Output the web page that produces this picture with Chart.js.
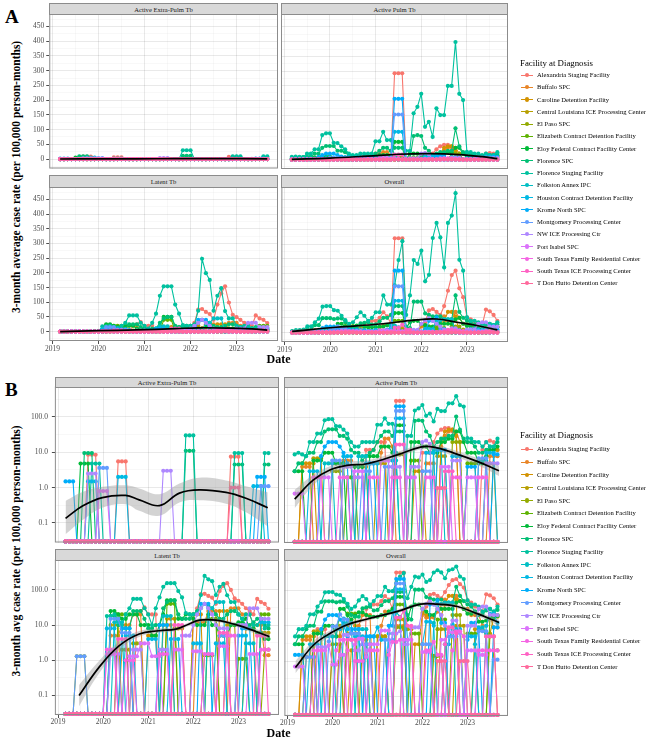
<!DOCTYPE html>
<html><head><meta charset="utf-8">
<script src="https://cdn.jsdelivr.net/npm/chart.js@4.4.1/dist/chart.umd.min.js"></script>
<style>
html,body{margin:0;padding:0;background:#fff;}
body{width:650px;height:740px;position:relative;overflow:hidden;font-family:"Liberation Serif","Times New Roman",serif;color:#000;}
.strip{position:absolute;background:#d9d9d9;border:1px solid #8c8c8c;box-sizing:border-box;font-size:6.6px;color:#1a1a1a;display:flex;align-items:center;justify-content:center;z-index:5;white-space:nowrap;}
.lbl{position:absolute;white-space:nowrap;z-index:6;}
.host{position:absolute;left:0;top:0;}
</style></head><body>
<script>
// ---------------- DATA ----------------
const FACILITIES = ["Alexandria Staging Facility","Buffalo SPC","Caroline Detention Facility","Central Louisiana ICE Processing Center","El Paso SPC","Elizabeth Contract Detention Facility","Eloy Federal Contract Facility Center","Florence SPC","Florence Staging Facility","Folkston Annex IPC","Houston Contract Detention Facility","Krome North SPC","Montgomery Processing Center","NW ICE Processing Ctr","Port Isabel SPC","South Texas Family Residential Center","South Texas ICE Processing Center","T Don Hutto Detention Center"];
const COLORS = ["#F8766D","#E88526","#D39200","#B79F00","#93AA00","#5EB300","#00BA38","#00BF74","#00C19F","#00BFC4","#00B9E3","#00ADFA","#619CFF","#AE87FF","#DB72FB","#F564E3","#FF61C3","#FF699C"];
// months: 2019-03 ... 2023-09 (55 monthly points)
const FIRST_YEAR = 2019, FIRST_MONTH = 3, N_MONTHS = 55;
const YEAR_TICKS = [2019,2020,2021,2022,2023];
const LIN_TICKS = [0,50,100,150,200,250,300,350,400,450];
const LOG_TICKS = [0.1,1,10,100];
const LOG_TICK_LABELS = ["0.1","1.0","10.0","100.0"];

// Active Extra-Pulm Tb (rows in FACILITIES order)
const EXTRA_PULM = [
[0,0,0,0,0,0,8.5,8.5,8.5,0, 0,0,0,0,5.5,5.5,5.5,0,0,0,0,0, 0,0,0,0,0,0,0,0,0,0,0,0, 0,0,0,0,0,0,0,0,0,0,7.5,7.5, 7.5,0,0,0,0,0,0,0,0],
[0,0,0,0,0,0,0,0,0,0, 0,0,0,0,0,0,0,0,0,0,0,0, 0,0,0,0,0,0,0,0,0,0,0,0, 0,0,0,0,0,0,0,0,0,0,0,0, 0,0,0,0,0,0,0,0,0],
[0,0,0,0,0,0,0,0,0,0, 0,0,0,0,0,0,0,0,0,0,0,0, 0,0,0,0,0,0,0,0,0,0,0,0, 0,0,0,0,0,0,0,0,0,0,0,0, 0,0,0,0,0,0,0,0,0],
[0,0,0,0,0,0,0,0,0,0, 0,0,0,0,0,0,0,0,0,0,0,0, 0,0,0,0,0,0,0,0,0,0,0,0, 0,0,0,0,0,0,0,0,0,0,0,0, 0,0,0,0,0,0,0,0,0],
[0,0,0,0,0,0,0,0,0,0, 0,0,0,0,0,0,0,0,0,0,0,0, 0,0,0,0,0,0,0,0,0,0,0,0, 0,0,0,0,0,0,0,0,0,0,0,0, 0,0,0,0,0,0,0,0,0],
[0,0,0,0,0,0,0,0,0,0, 0,0,0,0,0,0,0,0,0,0,0,0, 0,0,0,0,0,0,0,0,0,0,0,0, 0,0,0,0,0,0,0,0,0,0,0,0, 0,0,0,0,0,0,0,0,0],
[0,0,0,0,4.8,4.8,4.8,0,0,0, 0,0,0,0,0,0,0,0,0,0,0,0, 0,0,0,0,0,0,0,0,0,0,0,0, 0,0,0,0,0,0,0,0,0,0,0,0, 0,0,0,0,0,0,0,0,0],
[0,0,0,0,0,9.5,9.5,9.5,0,0, 0,0,0,0,0,0,0,0,0,0,0,0, 0,0,0,0,0,0,0,0,0,0,11,11, 11,0,0,0,0,0,0,0,0,0,0,4.5, 4.5,4.5,0,0,0,0,0,4.5,4.5],
[0,0,0,0,0,0,0,4.8,4.8,4.8, 0,0,0,0,0,0,0,0,0,0,0,0, 0,0,0,0,0,0,0,0,0,0,30,30, 30,0,0,0,0,0,0,0,0,0,0,9.5, 9.5,9.5,0,0,0,0,0,9.5,9.5],
[0,0,0,0,0,0,0,0,0,0, 0,0,0,0,0,0,0,0,0,0,0,0, 0,0,0,0,0,0,0,0,0,0,0,0, 0,0,0,0,0,0,0,0,0,0,0,0, 0,0,0,0,0,0,0,0,0],
[0,0,0,0,0,0,1.5,1.5,1.5,0, 0,0,0,0,2,2,2,0,0,0,0,0, 0,0,0,0,0,0,0,0,0,0,0,0, 0,0,0,0,0,0,0,0,0,0,0,0, 0,0,0,0,1.1,1.1,1.1,0,0],
[1.5,1.5,1.5,0,0,0,0,0,0,0, 0,0,0,0,0,0,0,0,0,0,0,0, 0,0,0,0,0,0,0,0,0,0,0,0, 0,0,0,0,0,0,0,0,0,0,0,0, 0,0,0,0,0,2,2,2,0],
[0,0,0,0,0,0,0,0,0,3.6, 3.6,3.6,0,0,0,0,0,0,0,0,0,0, 0,0,0,0,0,0,0,0,0,0,0,0, 0,0,0,0,0,0,0,0,0,0,0,0, 0,0,0,0,0,0,1.1,1.1,1.1],
[0,0,0,0,0,0,2.5,2.5,2.5,0, 0,0,0,0,0,0,0,0,0,0,0,0, 0,0,0,0,3,3,3,0,0,0,0,0, 0,0,0,0,0,0,0,0,0,0,0,0, 0,0,0,0,0,0,0,0,0],
[0,0,0,0,0,0,0,0,0,0.8, 0.8,0.8,0,0,0,0,0,0,0,0,0,0, 0,0,0,0,0,0,0,0,0,0,0,0, 0,0,0,0,0,0,0,0,0,0,0,0, 0,0,0,0,0,0,0,0,0],
[0,0,0,0,0,0,0,0,0,0, 0,0,0,0,0,0,0,0,0,0,0,0, 0,0,0,0,0,0,0,0,0,0,0,0, 0,0,0,0,0,0,0,0,0,0,0,0, 0,0,0,0,0,0,0,0,0],
[0,0,0,0,0,0,0,0,0,0, 0,0,0,0,0,0,0,0,0,0,0,0, 0,0,0,0,0,0,0,0,0,0,0,0, 0,0,0,0,0,0,0,0,0,0,0,0, 0,0,0,0,0,0,0,0,0],
[0,0,0,0,0,0,0,0,0,0, 0,0,0,0,0,0,0,0,0,0,0,0, 0,0,0,0,0,0,0,0,0,0,0,0, 0,0,0,0,0,0,0,0,0,0,1,1, 1,0,0,0,0,0,0,0,0]
];

// Active Pulm Tb
const ACTIVE_PULM = [
[0,0,0,0,0,0,0,0,0,0, 5,5,5,0,0,0,0,0,0,12,12,12, 20,20,20,0,0,293,293,293,0,0,0,0, 10,10,10,20,35,45,50,50,40,30,0,0, 0,0,0,0,12,20,22,20,12],
[0,0,4,4,4,0,0,0,0,0, 0,0,0,6,6,6,0,0,0,0,0,0, 0,10,25,25,15,0,0,0,0,0,0,0, 0,5,5,5,0,15,30,40,45,40,20,0, 0,0,0,0,0,0,8,8,8],
[0,0,5,5,5,5,0,0,0,0, 0,0,0,0,0,0,0,4,4,4,0,0, 0,0,0,0,0,0,0,0,0,0,3,3, 3,0,0,0,0,20,40,45,45,30,0,0, 0,0,0,0,0,5,5,5,0],
[0,0,0,0,0,7,7,7,0,0, 0,0,0,0,0,0,0,0,0,0,0,0, 5,5,5,0,0,0,0,0,0,0,0,0, 0,0,0,0,8,8,8,0,0,0,0,0, 0,0,0,0,0,0,0,12,12],
[0,0,0,0,0,0,0,0,0,0, 3,3,3,0,0,0,0,0,0,0,0,0, 0,0,0,0,0,9,9,9,0,0,0,0, 0,0,0,0,0,0,0,0,20,20,20,0, 0,0,0,0,0,0,0,0,0],
[0,0,0,0,0,0,0,0,0,0, 0,0,0,0,2,2,2,0,0,0,0,0, 0,0,0,0,0,0,0,0,0,6,6,6, 0,0,0,0,0,0,0,0,0,0,0,0, 5,5,5,0,0,0,0,0,0],
[3,3,3,0,0,6,6,6,10,10, 10,5,5,5,0,0,4,4,4,0,8,8, 8,15,15,15,10,60,60,60,0,20,20,20, 15,15,10,10,10,20,20,25,25,40,40,20, 10,10,10,5,5,8,12,12,15],
[3,5,5,8,10,10,20,20,40,46, 46,46,30,30,25,12,10,10,6,8,10,12, 20,30,40,40,30,40,40,40,0,0,80,83, 80,40,30,15,20,25,25,30,30,106,45,25, 20,20,15,10,10,12,15,15,20],
[9,10,9,8,20,20,35,35,83,89, 89,57,56,45,35,20,15,15,20,20,20,20, 62,62,94,66,66,10,0,0,30,30,157,179, 223,111,128,77,174,151,151,250,250,399,223,202, 26,25,20,20,15,20,15,15,25],
[0,0,0,0,0,0,0,0,5,5, 5,0,0,0,0,0,0,8,8,8,0,0, 0,0,0,6,6,6,0,0,0,0,0,0, 0,0,0,12,12,12,0,0,0,0,0,0, 0,0,0,6,6,6,0,0,0],
[0,0,0,0,3,3,3,0,0,0, 0,0,0,8,8,8,0,0,0,0,5,5, 5,0,0,0,0,94,94,94,0,0,0,0, 0,10,10,10,0,0,0,0,8,8,8,0, 0,0,0,0,0,10,10,10,0],
[0,0,0,0,0,0,0,8,15,20, 20,20,15,10,5,0,0,0,0,5,5,5, 0,0,0,0,0,206,206,206,0,0,0,0, 0,0,0,0,12,12,12,0,0,0,0,0, 4,4,4,0,0,0,0,9,9],
[0,0,0,0,0,0,0,0,0,0, 6,6,6,0,0,0,0,0,3,3,3,0, 0,0,4,4,4,153,153,153,0,0,0,0, 3,3,3,0,0,0,0,0,0,0,0,0, 0,0,0,7,7,7,0,0,0],
[0,0,0,0,0,0,0,0,0,0, 0,0,0,4,4,4,2,2,2,0,0,0, 0,0,0,0,4,4,4,0,0,4,4,4, 20,22,18,0,0,0,0,0,6,6,6,0, 0,0,0,0,0,5,5,5,5],
[0.7,0.7,0.7,0,0,0,0,2,2,2, 0,0,0,0,0,0,3,3,3,0,0,0, 0,6,6,6,0,0,0,0,2,2,2,0, 0,0,0,0,0,4,4,4,0,0,0,0, 2,2,2,0,0,0,0,0,0],
[0,0,0,0,0,2,2,2,0,0, 0,0,2,2,2,0,0,0,0,0,2,2, 2,0,0,0,2,2,2,0,0,0,0,0, 0,2,2,2,0,0,0,0,2,2,2,0, 0,0,0,2,2,2,0,0,0],
[0,0,0,0,0,0,0,0,0,0, 0,0,0,0,0,0,0,0,0,0,0,0, 0,0,0,0,0,17,17,17,0,0,0,0, 0,0,0,0,0,0,3,3,3,0,0,0, 0,0,0,0,0,0,0,0,0],
[0,0,0,0,0,0,0,0,0,0, 0,0,0,0,0,0,0,0,0,0,0,0, 0,0,0,0,0,0,0,0,0,0,0,0, 0,0,0,0,1,1,1,0,0,0,0,0, 0,0,0,0,0,0,0,0,0]
];

// Latent Tb
const LATENT = [
[0,0,0,0,0,0,0,0,0,0, 0,0,0,0,0,0,0,0,0,20,25,32, 20,20,20,0,0,0,0,0,0,0,0,0, 15,30,75,77,67,60,40,92,130,154,99,57, 49,40,30,25,20,55,45,40,29],
[0,0,0,0,0,0,0,0,0,0, 0,0,5,5,5,10,10,10,20,20,20,0, 0,0,0,0,10,10,10,0,0,0,0,0, 0,12,12,12,25,25,25,0,0,0,30,30, 30,20,20,20,10,10,10,1.4,1.4],
[0,0,0,0,0,0,0,0,0,0, 0,0,0,0,0,2,2,2,0,0,0,0, 5,5,5,0,0,15,15,15,0,0,0,0, 20,20,20,0,0,0,0,25,25,25,0,0, 0,0,8,8,8,0,0,0,0],
[0,0,0,0,0,0,0,0,0,0, 0,0,10,10,10,0,0,0,0,0,0,0, 0,0,0,0,0,0,0,8,8,8,0,0, 0,0,0,0,0,0,0,0,0,10,10,10, 0,0,0,0,0,0,6,6,6],
[0,0,0,1.3,1.3,1.3,0,0,0,0, 0,0,0,0,0,0,0,0,3,3,3,0, 0,0,0,0,0,0,0,0,0,0,0,0, 0,0,0,1.4,1.4,1.4,0,0,0,0,0,0, 0,0,0,0,0,0,0,2,2],
[0,0,0,0,0,0,0,0,0,0, 0,0,0,0,20,20,20,0,0,0,0,0, 0,0,0,0,0,40,40,40,0,0,0,0, 0,0,0,0,15,15,15,0,0,0,0,0, 1.1,1.1,1.1,0,0,0,20,20,20],
[0,0,0,0,0,0,0,0,0,0, 0,0,25,25,20,15,15,20,20,20,10,10, 10,5,5,10,20,50,50,50,15,15,20,20, 15,10,10,10,20,10,10,5,5,5,10,10, 12,12,15,8,8,6,6,4,4],
[0,0,0,0,0,0,0,0,0,0, 0,0,18,18,10,8,8,8,25,25,25,15, 8,8,10,10,30,45,50,50,20,15,15,15, 20,25,30,40,35,30,20,15,15,20,25,25, 20,15,10,10,12,15,15,10,8],
[0,0,0,0,0,0,0,0,0,0, 0,18,18,20,15,10,20,30,55,55,55,30, 20,10,30,61,122,154,154,154,92,61,22,20, 20,22,71,248,199,176,71,122,148,70,45,45, 20,15,20,20,10,10,15,8,10],
[0,0,0,0,0,0,0,0,0,0, 0,0,0,12,12,12,0,0,0,0,0,0, 0,0,0,0,18,18,18,0,0,0,0,0, 0,0,0,0,30,30,45,45,45,0,0,0, 0,0,3,3,3,0,0,0,0],
[0,0,0,0,0,0,0,0,0,0, 0,8,8,8,0,0,5,5,5,0,0,0, 4,4,4,0,0,0,4,4,4,0,0,0, 3,3,3,0,0,0,3,3,3,0,0,0, 5,5,5,0,0,0,12,12,12],
[0,0,0,0,0,0,0,0,0,0, 0,0,0,0,0,8,8,8,0,0,0,0, 0,0,0,10,10,10,0,0,0,0,0,0, 0,0,40,40,40,0,0,0,0,0,0,0, 0,8,8,8,0,0,0,0,0],
[0,0,0,1.3,1.3,1.3,0,0,0,0, 0,0,15,15,15,6,6,6,0,0,0,0, 0,0,0,0,0,0,0,0,0,0,0,0, 0,0,0,0,0,0,0,5,5,5,0,0, 0,0,0,0,0,0,0,0,0],
[0,0,0,0,0,0,0,0,0,0, 0,0,1.5,1.5,1.5,0,0,0,2,2,2,0, 0,0,0,2,2,2,0,0,0,5,5,5, 10,20,30,40,30,20,10,8,8,8,0,0, 10,10,10,30,30,30,15,15,15],
[0,0,0,0,0,0,0,0,0,0, 0,1.5,1.5,1.5,0,0,0,1.3,1.3,1.3,3,3, 3,1.3,1.3,1.3,0,0,0,2,2,2,0,0, 1.8,1.8,1.8,0,0,0,0,2.5,2.5,2.5,0,0, 0,0,0,1.5,1.5,1.5,0,0,0],
[0,0,0,0,0,0,0,0,0,0, 0,2,2,2,0,0,1,1,1,0,0,0, 0,0,0,1.5,1.5,1.5,0,0,0,0,0,0, 0,0,0,1.5,1.5,1.5,0,0,0,5,5,5, 0,0,0,0,0,0,2,2,2],
[0,0,0,0,0,0,0,0,0,0, 0,0,0,0,4,4,4,0,0,0,0,0, 0,0,0,0,0,0,0,10,10,10,0,0, 0,0,0,0,0,0,0,6,6,6,0,0, 0,0,0,0,0,5,5,5,0],
[0,0,0,0,0,0,0,0,0,0, 0,0,0,0,0,0,0,0,0,0,0,0, 0,0,0,0,0,0,0,0,0,0,0,0, 0,0,0,0,0,0,0,0,0,0,0,0, 0,0,0,0,0,0,0,0,0]
];

// Overall
const OVERALL = [
[0,0,0,0,0,0,8,8,8,0, 5,5,5,0,6,6,6,0,0,30,35,40, 40,50,69,55,30,320,320,320,0,0,0,0, 20,35,75,80,70,60,90,142,195,210,150,120, 52,45,35,30,25,78,72,60,40],
[0,0,4,4,4,0,0,0,0,0, 0,0,5,11,11,15,10,10,20,20,20,0, 0,10,25,25,25,10,10,10,0,0,0,0, 0,17,17,17,25,40,55,40,45,70,50,30, 30,20,20,20,10,10,18,9,9],
[0,0,5,5,5,5,0,0,0,0, 0,0,0,0,0,2,2,6,4,4,0,0, 5,5,5,0,0,15,15,15,0,0,3,3, 23,20,20,0,0,20,40,70,70,55,0,0, 0,0,8,8,8,5,5,5,0],
[0,0,0,0,0,7,7,7,0,0, 0,0,10,10,10,0,0,0,0,0,0,0, 5,5,5,0,0,0,0,8,8,8,0,0, 0,0,0,0,8,8,8,0,0,10,10,10, 0,0,0,0,0,0,6,18,18],
[0,0,0,1.3,1.3,1.3,0,0,0,0, 3,3,3,0,0,0,0,0,3,3,3,0, 0,0,0,0,0,9,9,9,0,0,0,0, 0,0,0,1.4,1.4,1.4,0,0,20,20,20,0, 0,0,0,0,0,0,0,2,2],
[0,0,0,0,0,0,0,0,0,0, 0,0,0,0,22,22,22,0,0,0,0,0, 0,0,0,0,0,40,40,40,0,6,6,6, 0,0,0,0,15,15,15,0,0,0,0,0, 6,6,6,0,0,0,20,20,20],
[3,3,3,0,0,6,6,6,10,10, 10,5,30,30,20,15,19,24,24,20,18,18, 18,20,20,25,30,66,66,66,15,35,40,40, 30,25,20,20,30,30,30,30,30,45,50,30, 22,22,25,13,13,14,18,16,19],
[3,5,5,8,10,10,25,25,49,49, 49,46,48,48,35,20,18,18,31,33,35,27, 28,38,50,50,60,90,90,90,20,15,105,105, 105,65,60,55,55,55,45,45,45,126,70,50, 40,35,25,20,22,27,30,25,28],
[5,8,8,10,21,21,35,47,88,90, 90,76,74,57,42,30,35,52,69,57,40,50, 69,69,126,95,95,160,246,310,60,126,246,233, 278,174,196,321,372,323,221,372,397,473,247,210, 52,40,40,35,25,30,30,25,35],
[0,0,0,0,0,0,0,0,5,5, 5,0,0,12,12,12,0,8,8,8,0,0, 0,0,0,6,24,24,18,0,0,0,0,0, 0,0,0,12,42,42,45,45,45,0,0,0, 0,0,3,9,9,6,0,0,0],
[0,0,0,0,3,3,3,0,0,0, 0,8,8,16,8,8,5,5,5,0,5,5, 9,4,4,0,0,108,108,108,4,0,0,0, 3,13,13,10,0,0,3,3,11,8,8,0, 5,5,5,0,0,10,22,22,12],
[1.5,1.5,1.5,0,0,0,0,8,15,20, 20,20,15,10,5,8,8,8,0,5,5,5, 0,0,0,10,10,210,210,210,0,0,0,0, 0,0,40,40,52,12,12,0,0,0,0,0, 4,12,12,8,0,0,0,9,9],
[0,0,0,1.3,1.3,1.3,0,0,0,3.6, 9.6,9.6,21,15,15,6,6,6,3,3,3,0, 0,0,4,4,4,157,157,157,0,0,0,0, 3,3,3,0,0,0,0,5,5,5,0,0, 0,0,0,7,7,7,0,1.1,1.1],
[0,0,0,0,0,0,2.5,2.5,2.5,0, 0,0,1.5,5.5,5.5,4,2,2,4,2,2,0, 0,0,0,2,6,6,7,3,3,9,9,9, 30,42,48,40,30,20,10,8,14,14,6,0, 10,10,10,30,35,35,20,20,20],
[0.7,0.7,0.7,0,0,0,0,2,2,2.8, 0.8,0.8,1.5,1.5,0,0,3,4.3,4.3,1.3,3,3, 3,7.3,7.3,7.3,0,0,0,4,4,4,0,0, 1.8,1.8,1.8,0,0,4,4,6.5,6.5,6.5,0,0, 2,2,2,1.5,1.5,1.5,0,0,0],
[0,0,0,0,0,2,2,2,0,0, 0,2,4,4,2,0,1,1,1,0,2,2, 2,0,0,1.5,3.5,3.5,4,0,0,0,0,0, 0,2,2,3.5,1.5,1.5,0,0,2,7,7,5, 0,0,0,2,2,2,2,2,2],
[0,0,0,0,0,0,0,0,0,0, 0,0,0,0,4,4,4,0,0,0,0,0, 0,0,0,0,0,17,17,27,10,10,0,0, 0,0,0,0,0,0,3,9,9,6,0,0, 0,0,0,0,0,5,5,5,0],
[0,0,0,0,0,0,0,0,0,0, 0,0,0,0,0,0,0,0,0,0,0,0, 0,0,0,0,0,0,0,0,0,0,0,0, 0,0,0,0,1,1,1,0,0,0,1,1, 1,0,0,0,0,0,0,0,0]
];

// Smoothed trend (month index, fit, lower, upper)
// Panel A (linear scale)
const A_EXTRA_SMOOTH_IDX = [0,10,20,30,40,54];
const A_EXTRA_SMOOTH = [0.3,0.8,0.9,1.2,1.3,1.0];
const A_EXTRA_LO = [-1.5,-0.2,0,0.3,0.3,-0.8];
const A_EXTRA_HI = [2.1,1.8,1.8,2.1,2.3,2.8];
const A_PULM_SMOOTH_IDX = [0,10,20,28,36,44,50,54];
const A_PULM_SMOOTH = [1,5,12,18,20,17,10,3];
const A_PULM_LO = [-3,3,10,16,18,15,7,-2];
const A_PULM_HI = [5,7,14,20,22,19,13,8];
const A_LATENT_SMOOTH_IDX = [0,10,20,30,36,44,50,54];
const A_LATENT_SMOOTH = [0,3,6,10,13,12,9,5];
const A_LATENT_LO = [-3,1.5,4.5,8.5,11.5,10.5,7,1];
const A_LATENT_HI = [3,4.5,7.5,11.5,14.5,13.5,11,9];
const A_OVERALL_SMOOTH_IDX = [0,11.6,23,32.7,38,43.3,48.6,54];
const A_OVERALL_SMOOTH = [4,18,29,43,46,35,24,9];
const A_OVERALL_LO = [-2,15,26,40,43,32,21,3];
const A_OVERALL_HI = [10,21,32,46,49,38,27,15];
// Panel B (log scale)
const B_EXTRA_SMOOTH_IDX = [0,4.5,9.8,16,19.6,25,30.3,35.6,42.7,48,53.8];
const B_EXTRA_SMOOTH = [0.135,0.30,0.52,0.60,0.45,0.31,0.70,0.86,0.73,0.50,0.27];
const B_EXTRA_LO = [0.048,0.12,0.27,0.34,0.22,0.16,0.38,0.44,0.35,0.20,0.08];
const B_EXTRA_HI = [0.42,0.75,1.05,1.16,0.95,0.65,1.3,1.9,1.6,1.1,0.74];
const B_PULM_SMOOTH_IDX = [0,5,9.5,13.9,19.3,27.3,33.5,37,42.4,48.6,54.4];
const B_PULM_SMOOTH = [0.49,1.7,3.3,4.4,4.9,8.7,14.5,14.5,9.8,5.7,3.1];
const B_PULM_LO = [0.27,1.2,2.6,3.5,4.0,7.2,12.3,12,8,4.5,2.2];
const B_PULM_HI = [0.9,2.4,4.2,5.6,6.1,10.5,17,17.5,12,7.2,4.3];
const B_LATENT_SMOOTH_IDX = [3.6,8.9,14.3,19.6,24.9,29.4,32.9,35.6,40,46.2,54.3];
const B_LATENT_SMOOTH = [0.1,0.63,2.6,5.6,6.9,7.7,10.7,13.8,13.8,9.6,4.7];
const B_LATENT_LO = [0.05,0.42,2.0,4.6,6.0,6.8,9.5,12.3,12.3,8.4,3.8];
const B_LATENT_HI = [0.2,0.95,3.4,6.8,8.0,8.8,12,15.5,15.5,11,5.8];
const B_OVERALL_SMOOTH_IDX = [0.1,5,9.5,13.9,19.3,27.3,33.5,37.9,43.3,48.6,54.4];
const B_OVERALL_SMOOTH = [0.66,2.9,6.2,10.7,15.5,25.5,41,41,35,22,12.4];
const B_OVERALL_LO = [0.45,2.2,5.1,9.2,13.7,22.8,37,36.5,31,19,10];
const B_OVERALL_HI = [1.0,3.8,7.5,12.5,17.5,28.5,46,46,40,25.5,15];

// ---------------- RENDER ----------------
[EXTRA_PULM, ACTIVE_PULM, LATENT, OVERALL].forEach((f, fi) => {
  if (f.length !== 18) throw new Error('facet ' + fi + ' rows ' + f.length);
  f.forEach((r, ri) => { if (r.length !== N_MONTHS) throw new Error('facet ' + fi + ' row ' + ri + ' len ' + r.length); });
});

const FONT = '"Liberation Serif", "Times New Roman", serif';
Chart.defaults.font.family = FONT;
function xOf(i) { return FIRST_YEAR + (FIRST_MONTH - 1 + i) / 12; }
const X_MIN = 2018.93, X_MAX = 2023.9;
const LIN_MIN = -32, LIN_MAX = 494;
const LOG_MIN = 0.028, LOG_MAX = 725, LOG_FLOOR = 0.03;
const MAJOR_GRID = 'rgba(0,0,0,0.085)', MINOR_GRID = 'rgba(0,0,0,0.05)';

function xGridValues() {
  const v = [];
  YEAR_TICKS.forEach(y => { v.push(y); v.push(y + 0.5); });
  return v.filter(t => t >= X_MIN && t <= X_MAX);
}
function linGridValues() {
  const v = [];
  LIN_TICKS.forEach(t => { v.push(t - 25); v.push(t); });
  v.push(LIN_TICKS[LIN_TICKS.length - 1] + 25);
  return v.filter(t => t >= LIN_MIN && t <= LIN_MAX);
}
function logGridValues() {
  const v = [];
  LOG_TICKS.forEach(t => { v.push(t / Math.sqrt(10)); v.push(t); });
  v.push(LOG_TICKS[LOG_TICKS.length - 1] * Math.sqrt(10));
  return v.filter(t => t >= LOG_MIN && t <= LOG_MAX);
}

const borderPlugin = {
  id: 'panelBorder',
  afterDatasetsDraw(chart) {
    const { ctx, chartArea: a } = chart;
    ctx.save();
    ctx.strokeStyle = '#8c8c8c';
    ctx.lineWidth = 1;
    ctx.strokeRect(a.left + 0.5, a.top + 0.5, a.right - a.left - 1, a.bottom - a.top - 1);
    ctx.restore();
  }
};

function buildConfig(rows, sm, isLog, showX, showY) {
  const ds = [];
  rows.forEach((row, k) => {
    ds.push({
      label: FACILITIES[k],
      data: row.map((v, i) => ({ x: xOf(i), y: isLog ? (v > 0 ? v : LOG_FLOOR) : v })),
      borderColor: COLORS[k], backgroundColor: COLORS[k],
      borderWidth: 1.1, pointRadius: 2.1, pointBorderWidth: 0, pointBackgroundColor: COLORS[k],
      tension: 0, order: 10 + (17 - k), clip: 4
    });
  });
  ds.push({ label: 'lo', data: sm.idx.map((t, j) => ({ x: xOf(t), y: sm.lo[j] })), borderColor: 'rgba(0,0,0,0)', borderWidth: 0, pointRadius: 0, fill: false, tension: 0.4, order: 2 });
  ds.push({ label: 'hi', data: sm.idx.map((t, j) => ({ x: xOf(t), y: sm.hi[j] })), borderColor: 'rgba(0,0,0,0)', borderWidth: 0, pointRadius: 0, fill: '-1', backgroundColor: 'rgba(150,150,150,0.42)', tension: 0.4, order: 1 });
  ds.push({ label: 'fit', data: sm.idx.map((t, j) => ({ x: xOf(t), y: sm.mid[j] })), borderColor: '#000', borderWidth: 1.7, pointRadius: 0, fill: false, tension: 0.4, order: 0 });

  const xGrid = xGridValues();
  const yGrid = isLog ? logGridValues() : linGridValues();
  const isMajorY = v => isLog ? LOG_TICKS.some(t => Math.abs(Math.log10(t) - Math.log10(v)) < 1e-6) : (LIN_TICKS.indexOf(v) >= 0);
  const yLabel = v => {
    if (isLog) { const j = LOG_TICKS.findIndex(t => Math.abs(Math.log10(t) - Math.log10(v)) < 1e-6); return j >= 0 ? LOG_TICK_LABELS[j] : ''; }
    return LIN_TICKS.indexOf(v) >= 0 ? String(v) : '';
  };
  const isMajorX = v => YEAR_TICKS.indexOf(v) >= 0;

  return {
    type: 'line',
    data: { datasets: ds },
    options: {
      responsive: false, animation: false, events: [], devicePixelRatio: 1,
      layout: { padding: 0 },
      plugins: { legend: { display: false }, tooltip: { enabled: false } },
      scales: {
        x: {
          type: 'linear', min: X_MIN, max: X_MAX,
          afterBuildTicks: ax => { ax.ticks = xGrid.map(v => ({ value: v })); },
          ticks: { display: showX, autoSkip: false, maxRotation: 0, minRotation: 0, padding: isLog ? 0 : 1,
            font: { family: FONT, size: 7.5 }, color: '#4D4D4D',
            callback: v => isMajorX(v) ? String(v) : '' },
          grid: { color: c => (c.tick && isMajorX(c.tick.value)) ? MAJOR_GRID : MINOR_GRID,
            lineWidth: c => (c.tick && isMajorX(c.tick.value)) ? 1 : 0.6,
            drawTicks: showX, tickLength: 3,
            tickColor: c => (c.tick && isMajorX(c.tick.value)) ? '#4D4D4D' : 'rgba(0,0,0,0)' },
          border: { display: false }
        },
        y: {
          type: isLog ? 'logarithmic' : 'linear',
          min: isLog ? LOG_MIN : LIN_MIN, max: isLog ? LOG_MAX : LIN_MAX,
          afterBuildTicks: ax => { ax.ticks = yGrid.map(v => ({ value: v })); },
          ticks: { display: showY, autoSkip: false, padding: isLog ? 4 : 2,
            font: { family: FONT, size: 7.5 }, color: '#4D4D4D',
            callback: v => yLabel(v) },
          grid: { color: c => (c.tick && isMajorY(c.tick.value)) ? MAJOR_GRID : MINOR_GRID,
            lineWidth: c => (c.tick && isMajorY(c.tick.value)) ? 1 : 0.6,
            drawTicks: showY, tickLength: 3,
            tickColor: c => (c.tick && isMajorY(c.tick.value)) ? '#4D4D4D' : 'rgba(0,0,0,0)' },
          border: { display: false }
        }
      }
    },
    plugins: [borderPlugin]
  };
}

function makeCanvas(W, H) {
  const cv = document.createElement('canvas');
  cv.width = W; cv.height = H; cv.style.width = W + 'px'; cv.style.height = H + 'px';
  cv.style.display = 'block';
  return cv;
}

function makeFacet(factory, area) {
  const host = document.createElement('div');
  host.className = 'host';
  document.body.appendChild(host);
  let W = area.w + 50, H = area.h + 30;
  let cv = makeCanvas(W, H); host.appendChild(cv);
  let ch = new Chart(cv, factory());
  let ca = ch.chartArea;
  W += area.w - Math.round(ca.right - ca.left);
  H += area.h - Math.round(ca.bottom - ca.top);
  ch.destroy(); host.removeChild(cv);
  cv = makeCanvas(W, H); host.appendChild(cv);
  ch = new Chart(cv, factory());
  ca = ch.chartArea;
  host.style.left = (area.l - Math.round(ca.left)) + 'px';
  host.style.top = (area.t - Math.round(ca.top)) + 'px';
}

function strip(text, l, t, w, h) {
  const d = document.createElement('div');
  d.className = 'strip'; d.textContent = text;
  d.style.left = l + 'px'; d.style.top = t + 'px'; d.style.width = w + 'px'; d.style.height = h + 'px';
  document.body.appendChild(d);
}
function label(text, x, y, size, bold, align) {
  const d = document.createElement('div');
  d.className = 'lbl'; d.textContent = text;
  d.style.fontSize = size + 'px'; d.style.fontWeight = bold ? 'bold' : 'normal';
  d.style.lineHeight = (size * 1.2) + 'px';
  d.style.top = (y - size * 0.6) + 'px';
  if (align === 'center') { d.style.width = '300px'; d.style.textAlign = 'center'; d.style.left = (x - 150) + 'px'; }
  else d.style.left = x + 'px';
  document.body.appendChild(d);
  return d;
}
function rotLabel(text, cx, cy, size) {
  const d = document.createElement('div');
  d.className = 'lbl'; d.textContent = text;
  d.style.fontSize = size + 'px'; d.style.fontWeight = 'bold';
  d.style.width = '420px'; d.style.textAlign = 'center';
  d.style.left = (cx - 210) + 'px';
  d.style.lineHeight = (size * 1.2) + 'px';
  d.style.top = (cy - size * 0.6) + 'px';
  d.style.transform = 'rotate(-90deg)';
  document.body.appendChild(d);
}
function legend(x, titleY, firstY, step) {
  label('Facility at Diagnosis', x, titleY, 8.8, false);
  FACILITIES.forEach((name, k) => {
    const y = firstY + step * k;
    const ln = document.createElement('div');
    ln.style.cssText = 'position:absolute;height:1px;width:12px;left:' + (x + 1) + 'px;top:' + (y - 0.5) + 'px;background:' + COLORS[k] + ';';
    document.body.appendChild(ln);
    const dot = document.createElement('div');
    dot.style.cssText = 'position:absolute;width:4.4px;height:4.4px;border-radius:50%;left:' + (x + 4.8) + 'px;top:' + (y - 2.2) + 'px;background:' + COLORS[k] + ';';
    document.body.appendChild(dot);
    label(name, x + 17, y, 6.6, false);
  });
}

const SM = (idx, mid, lo, hi) => ({ idx, mid, lo, hi });

// ---- Panel A (linear) ----
const A = {
  tl: { l: 49, t: 14, w: 229, h: 155 }, tr: { l: 281, t: 14, w: 227, h: 155 },
  bl: { l: 49, t: 187, w: 229, h: 155 }, br: { l: 281, t: 187, w: 227, h: 155 }
};
makeFacet(() => buildConfig(EXTRA_PULM, SM(A_EXTRA_SMOOTH_IDX, A_EXTRA_SMOOTH, A_EXTRA_LO, A_EXTRA_HI), false, false, true), A.tl);
makeFacet(() => buildConfig(ACTIVE_PULM, SM(A_PULM_SMOOTH_IDX, A_PULM_SMOOTH, A_PULM_LO, A_PULM_HI), false, false, false), A.tr);
makeFacet(() => buildConfig(LATENT, SM(A_LATENT_SMOOTH_IDX, A_LATENT_SMOOTH, A_LATENT_LO, A_LATENT_HI), false, true, true), A.bl);
makeFacet(() => buildConfig(OVERALL, SM(A_OVERALL_SMOOTH_IDX, A_OVERALL_SMOOTH, A_OVERALL_LO, A_OVERALL_HI), false, true, false), A.br);
strip('Active Extra-Pulm Tb', 49, 3, 229, 12);
strip('Active Pulm Tb', 281, 3, 227, 12);
strip('Latent Tb', 49, 175, 229, 13);
strip('Overall', 281, 175, 227, 13);
label('A', 5, 17, 19, true);
rotLabel('3-month average case rate (per 100,000 person-months)', 17, 177, 11.5);
label('Date', 278.5, 359, 12, true, 'center');
legend(520, 63, 75, 12.25);

// ---- Panel B (log) ----
const B = {
  tl: { l: 55, t: 387, w: 224, h: 156 }, tr: { l: 284, t: 387, w: 224, h: 156 },
  bl: { l: 55, t: 560, w: 224, h: 156 }, br: { l: 284, t: 560, w: 224, h: 156 }
};
makeFacet(() => buildConfig(EXTRA_PULM, SM(B_EXTRA_SMOOTH_IDX, B_EXTRA_SMOOTH, B_EXTRA_LO, B_EXTRA_HI), true, false, true), B.tl);
makeFacet(() => buildConfig(ACTIVE_PULM, SM(B_PULM_SMOOTH_IDX, B_PULM_SMOOTH, B_PULM_LO, B_PULM_HI), true, false, false), B.tr);
makeFacet(() => buildConfig(LATENT, SM(B_LATENT_SMOOTH_IDX, B_LATENT_SMOOTH, B_LATENT_LO, B_LATENT_HI), true, true, true), B.bl);
makeFacet(() => buildConfig(OVERALL, SM(B_OVERALL_SMOOTH_IDX, B_OVERALL_SMOOTH, B_OVERALL_LO, B_OVERALL_HI), true, true, false), B.br);
strip('Active Extra-Pulm Tb', 55, 377, 224, 11);
strip('Active Pulm Tb', 284, 377, 224, 11);
strip('Latent Tb', 55, 549, 224, 12);
strip('Overall', 284, 549, 224, 12);
label('B', 5, 390, 19, true);
rotLabel('3-month avg case rate (per 100,000 person-months)', 17, 551, 11.5);
label('Date', 278.5, 733, 12, true, 'center');
legend(520, 435, 449.3, 12.8);
</script>
</body></html>
